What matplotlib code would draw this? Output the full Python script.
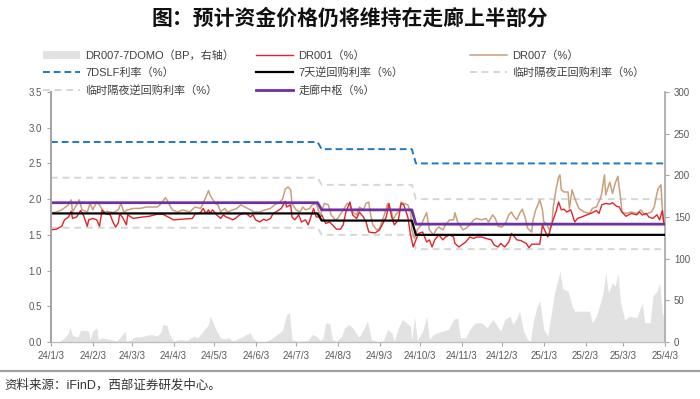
import matplotlib
matplotlib.use('Agg')
import matplotlib.pyplot as plt
import matplotlib.transforms as mtransforms
from matplotlib.lines import Line2D
from matplotlib.patches import Patch
import pandas as pd

plt.rcParams['font.family'] = ['Liberation Sans', 'Noto Sans CJK SC']

# ---- data ----
dr001_dates = ['2024-01-03', '2024-01-07', '2024-01-11', '2024-01-13', '2024-01-16', '2024-01-18', '2024-01-19',
               '2024-01-22', '2024-01-25', '2024-01-27', '2024-01-30', '2024-01-31', '2024-02-03', '2024-02-06',
               '2024-02-08', '2024-02-10', '2024-02-12', '2024-02-16', '2024-02-18', '2024-02-20', '2024-02-22',
               '2024-02-23', '2024-02-25', '2024-02-28', '2024-02-29', '2024-03-04', '2024-03-11', '2024-03-16',
               '2024-03-22', '2024-03-26', '2024-03-30', '2024-04-03', '2024-04-10', '2024-04-17', '2024-04-19',
               '2024-04-23', '2024-04-25', '2024-04-27', '2024-04-29', '2024-04-30', '2024-05-02', '2024-05-05',
               '2024-05-08', '2024-05-10', '2024-05-12', '2024-05-15', '2024-05-17', '2024-05-19', '2024-05-22',
               '2024-05-25', '2024-05-27', '2024-05-30', '2024-06-01', '2024-06-03', '2024-06-06', '2024-06-09',
               '2024-06-11', '2024-06-14', '2024-06-16', '2024-06-18', '2024-06-22', '2024-06-25', '2024-06-26',
               '2024-06-29', '2024-06-30', '2024-07-02', '2024-07-05', '2024-07-07', '2024-07-10', '2024-07-12',
               '2024-07-14', '2024-07-16', '2024-07-18', '2024-07-21', '2024-07-22', '2024-07-25', '2024-07-28',
               '2024-07-30', '2024-08-02', '2024-08-05', '2024-08-07', '2024-08-09', '2024-08-12', '2024-08-14',
               '2024-08-17', '2024-08-19', '2024-08-22', '2024-08-24', '2024-08-26', '2024-08-29', '2024-08-31',
               '2024-09-03', '2024-09-06', '2024-09-08', '2024-09-10', '2024-09-12', '2024-09-14', '2024-09-17',
               '2024-09-19', '2024-09-21', '2024-09-24', '2024-09-26', '2024-09-28', '2024-09-30', '2024-10-02',
               '2024-10-05', '2024-10-08', '2024-10-10', '2024-10-12', '2024-10-14', '2024-10-17', '2024-10-20',
               '2024-10-22', '2024-10-25', '2024-10-28', '2024-10-29', '2024-11-01', '2024-11-03', '2024-11-06',
               '2024-11-09', '2024-11-12', '2024-11-14', '2024-11-18', '2024-11-21', '2024-11-25', '2024-11-27',
               '2024-11-30', '2024-12-02', '2024-12-05', '2024-12-08', '2024-12-10', '2024-12-11', '2024-12-14',
               '2024-12-17', '2024-12-21', '2024-12-23', '2024-12-25', '2024-12-28', '2024-12-31', '2025-01-02',
               '2025-01-03', '2025-01-06', '2025-01-07', '2025-01-09', '2025-01-12', '2025-01-14', '2025-01-16',
               '2025-01-18', '2025-01-20', '2025-01-23', '2025-01-26', '2025-01-28', '2025-01-31', '2025-02-04',
               '2025-02-08', '2025-02-11', '2025-02-13', '2025-02-15', '2025-02-18', '2025-02-21', '2025-02-23',
               '2025-02-26', '2025-02-28', '2025-03-02', '2025-03-05', '2025-03-09', '2025-03-13', '2025-03-15',
               '2025-03-17', '2025-03-20', '2025-03-22', '2025-03-25', '2025-03-28', '2025-03-30', '2025-04-01',
               '2025-04-02']
dr001 = [1.57, 1.58, 1.62, 1.71, 1.75, 1.83, 1.73,
         1.75, 1.84, 1.78, 1.62, 1.71, 1.73, 1.71,
         1.62, 1.85, 1.80, 1.78, 1.68, 1.61, 1.67,
         1.79, 1.75, 1.64, 1.78, 1.73, 1.75, 1.76,
         1.79, 1.79, 1.75, 1.71, 1.72, 1.73, 1.79,
         1.81, 1.87, 1.80, 1.85, 1.80, 1.85, 1.78,
         1.73, 1.78, 1.75, 1.73, 1.71, 1.73, 1.78,
         1.80, 1.80, 1.75, 1.78, 1.71, 1.68, 1.72,
         1.70, 1.73, 1.80, 1.82, 1.87, 1.97, 1.89,
         1.92, 1.75, 1.71, 1.78, 1.68, 1.71, 1.64,
         1.75, 1.87, 1.75, 1.75, 1.78, 1.66, 1.68,
         1.64, 1.58, 1.58, 1.64, 1.82, 1.96, 1.78,
         1.73, 1.82, 1.75, 1.68, 1.54, 1.53, 1.53,
         1.57, 1.68, 1.75, 1.94, 1.75, 1.64, 1.71,
         1.94, 1.92, 1.75, 1.50, 1.33, 1.43, 1.52,
         1.54, 1.40, 1.43, 1.33, 1.43, 1.50, 1.43,
         1.47, 1.50, 1.47, 1.38, 1.33, 1.36, 1.40,
         1.47, 1.45, 1.47, 1.47, 1.45, 1.43, 1.36,
         1.33, 1.38, 1.33, 1.40, 1.52, 1.50, 1.43,
         1.42, 1.38, 1.32, 1.37, 1.37, 1.37, 1.64,
         1.59, 1.47, 1.52, 1.66, 1.82, 1.96, 1.85,
         1.86, 1.82, 1.85, 1.68, 1.73, 1.75, 1.78,
         1.81, 1.84, 1.80, 1.92, 1.94, 1.93, 1.95,
         1.90, 1.89, 1.82, 1.76, 1.80, 1.78, 1.82,
         1.78, 1.80, 1.75, 1.73, 1.78, 1.71, 1.84,
         1.68]

dr007_dates = ['2024-01-03', '2024-01-07', '2024-01-11', '2024-01-16', '2024-01-18', '2024-01-19', '2024-01-22',
               '2024-01-24', '2024-01-26', '2024-01-30', '2024-02-01', '2024-02-03', '2024-02-06', '2024-02-08',
               '2024-02-11', '2024-02-14', '2024-02-18', '2024-02-22', '2024-02-24', '2024-02-26', '2024-02-29',
               '2024-03-04', '2024-03-09', '2024-03-14', '2024-03-22', '2024-03-25', '2024-03-28', '2024-03-30',
               '2024-04-02', '2024-04-06', '2024-04-10', '2024-04-15', '2024-04-19', '2024-04-23', '2024-04-25',
               '2024-04-27', '2024-04-29', '2024-04-30', '2024-05-04', '2024-05-06', '2024-05-08', '2024-05-11',
               '2024-05-13', '2024-05-17', '2024-05-20', '2024-05-23', '2024-05-26', '2024-05-30', '2024-06-02',
               '2024-06-06', '2024-06-10', '2024-06-14', '2024-06-17', '2024-06-21', '2024-06-23', '2024-06-25',
               '2024-06-27', '2024-06-29', '2024-06-30', '2024-07-03', '2024-07-06', '2024-07-08', '2024-07-10',
               '2024-07-13', '2024-07-15', '2024-07-18', '2024-07-19', '2024-07-21', '2024-07-24', '2024-07-27',
               '2024-07-29', '2024-08-01', '2024-08-03', '2024-08-07', '2024-08-10', '2024-08-12', '2024-08-14',
               '2024-08-17', '2024-08-19', '2024-08-22', '2024-08-24', '2024-08-26', '2024-08-27', '2024-08-29',
               '2024-09-01', '2024-09-03', '2024-09-06', '2024-09-08', '2024-09-09', '2024-09-12', '2024-09-13',
               '2024-09-15', '2024-09-18', '2024-09-19', '2024-09-21', '2024-09-24', '2024-09-26', '2024-09-27',
               '2024-09-29', '2024-10-01', '2024-10-04', '2024-10-06', '2024-10-08', '2024-10-10', '2024-10-13',
               '2024-10-15', '2024-10-17', '2024-10-20', '2024-10-22', '2024-10-25', '2024-10-28', '2024-10-29',
               '2024-10-31', '2024-11-04', '2024-11-06', '2024-11-09', '2024-11-12', '2024-11-14', '2024-11-18',
               '2024-11-21', '2024-11-23', '2024-11-26', '2024-11-28', '2024-11-30', '2024-12-03', '2024-12-06',
               '2024-12-08', '2024-12-10', '2024-12-11', '2024-12-14', '2024-12-16', '2024-12-18', '2024-12-20',
               '2024-12-22', '2024-12-25', '2024-12-26', '2024-12-28', '2024-12-30', '2024-12-31', '2025-01-02',
               '2025-01-03', '2025-01-05', '2025-01-07', '2025-01-09', '2025-01-10', '2025-01-12', '2025-01-14',
               '2025-01-15', '2025-01-16', '2025-01-18', '2025-01-21', '2025-01-22', '2025-01-24', '2025-01-26',
               '2025-01-29', '2025-02-02', '2025-02-06', '2025-02-08', '2025-02-11', '2025-02-14', '2025-02-15',
               '2025-02-17', '2025-02-18', '2025-02-21', '2025-02-23', '2025-02-25', '2025-02-27', '2025-03-01',
               '2025-03-02', '2025-03-05', '2025-03-09', '2025-03-13', '2025-03-16', '2025-03-19', '2025-03-21',
               '2025-03-24', '2025-03-26', '2025-03-28', '2025-03-29', '2025-03-31', '2025-04-01', '2025-04-02']
dr007 = [1.80, 1.82, 1.85, 1.92, 1.99, 1.82, 1.92,
         1.99, 1.85, 1.82, 1.94, 1.85, 1.96, 1.92,
         1.82, 1.83, 1.81, 1.85, 1.94, 1.82, 1.85,
         1.87, 1.87, 1.89, 1.89, 1.94, 2.02, 1.96,
         1.85, 1.82, 1.85, 1.82, 1.89, 1.87, 1.94,
         2.03, 2.12, 2.06, 1.94, 1.92, 1.82, 1.87,
         1.82, 1.85, 1.87, 1.92, 1.89, 1.85, 1.82,
         1.82, 1.85, 1.87, 1.92, 1.96, 2.00, 2.14,
         2.17, 2.13, 1.94, 1.85, 1.82, 1.89, 1.85,
         1.87, 1.92, 1.94, 1.87, 1.78, 1.94, 1.92,
         1.78, 1.71, 1.73, 1.85, 1.94, 1.92, 1.82,
         1.78, 1.89, 1.85, 1.94, 1.96, 1.82, 1.64,
         1.57, 1.59, 1.75, 1.87, 1.94, 1.82, 1.71,
         1.78, 1.85, 1.96, 1.94, 1.92, 1.82, 1.57,
         1.45, 1.57, 1.64, 1.73, 1.81, 1.57, 1.50,
         1.57, 1.61, 1.57, 1.64, 1.71, 1.71, 1.81,
         1.68, 1.57, 1.59, 1.64, 1.71, 1.73, 1.71,
         1.73, 1.68, 1.78, 1.73, 1.62, 1.61, 1.68,
         1.78, 1.82, 1.78, 1.71, 1.80, 1.86, 1.75,
         1.59, 1.54, 1.71, 1.85, 1.94, 1.99, 1.85,
         1.68, 1.66, 1.57, 1.64, 1.89, 2.13, 2.31,
         2.34, 2.13, 2.10, 2.10, 1.87, 2.13, 2.01,
         1.87, 1.82, 1.80, 1.87, 1.89, 2.01, 2.08,
         2.34, 2.06, 2.24, 2.08, 2.22, 2.32, 2.01,
         1.82, 1.80, 1.82, 1.80, 1.85, 1.78, 1.80,
         1.82, 1.89, 2.08, 2.15, 2.20, 1.87, 1.68]

spread_dates = ['2024-01-03', '2024-01-09', '2024-01-13', '2024-01-16', '2024-01-17', '2024-01-19', '2024-01-21',
                '2024-01-23', '2024-01-25', '2024-01-28', '2024-01-31', '2024-02-01', '2024-02-03', '2024-02-06',
                '2024-02-07', '2024-02-10', '2024-02-16', '2024-02-21', '2024-02-24', '2024-02-27', '2024-02-28',
                '2024-03-02', '2024-03-05', '2024-03-09', '2024-03-14', '2024-03-18', '2024-03-22', '2024-03-25',
                '2024-03-26', '2024-03-29', '2024-03-31', '2024-04-03', '2024-04-08', '2024-04-13', '2024-04-18',
                '2024-04-21', '2024-04-25', '2024-04-29', '2024-04-30', '2024-05-02', '2024-05-05', '2024-05-08',
                '2024-05-10', '2024-05-14', '2024-05-17', '2024-05-21', '2024-05-24', '2024-05-27', '2024-05-30',
                '2024-06-01', '2024-06-04', '2024-06-09', '2024-06-14', '2024-06-19', '2024-06-23', '2024-06-26',
                '2024-06-28', '2024-06-30', '2024-07-04', '2024-07-07', '2024-07-12', '2024-07-15', '2024-07-18',
                '2024-07-21', '2024-07-23', '2024-07-25', '2024-07-28', '2024-07-30', '2024-08-02', '2024-08-06',
                '2024-08-08', '2024-08-11', '2024-08-14', '2024-08-18', '2024-08-19', '2024-08-22', '2024-08-25',
                '2024-08-28', '2024-09-02', '2024-09-06', '2024-09-09', '2024-09-12', '2024-09-14', '2024-09-17',
                '2024-09-20', '2024-09-23', '2024-09-26', '2024-09-27', '2024-09-29', '2024-10-01', '2024-10-05',
                '2024-10-08', '2024-10-10', '2024-10-13', '2024-10-16', '2024-10-20', '2024-10-24', '2024-10-28',
                '2024-10-31', '2024-11-02', '2024-11-06', '2024-11-09', '2024-11-13', '2024-11-18', '2024-11-22',
                '2024-11-26', '2024-11-28', '2024-12-02', '2024-12-05', '2024-12-09', '2024-12-11', '2024-12-14',
                '2024-12-16', '2024-12-19', '2024-12-22', '2024-12-24', '2024-12-26', '2024-12-29', '2024-12-31',
                '2025-01-03', '2025-01-06', '2025-01-08', '2025-01-11', '2025-01-15', '2025-01-17', '2025-01-21',
                '2025-01-24', '2025-01-26', '2025-02-01', '2025-02-06', '2025-02-08', '2025-02-11', '2025-02-14',
                '2025-02-16', '2025-02-18', '2025-02-20', '2025-02-23', '2025-02-25', '2025-02-27', '2025-03-01',
                '2025-03-04', '2025-03-08', '2025-03-13', '2025-03-17', '2025-03-19', '2025-03-23', '2025-03-25',
                '2025-03-28', '2025-03-30', '2025-04-01', '2025-04-02']
spread_bp = [0, 0, 5, 11, 18, 8, 7,
             6, 14, 14, 13, 3, 13, 17,
             3, 5, 3, 1, 7, 13, 1,
             2, 6, 6, 8, 9, 7, 13,
             21, 20, 9, 1, 3, 2, 7,
             5, 13, 21, 31, 25, 13, 5,
             4, 5, 1, 4, 6, 9, 11,
             4, 1, 0, 3, 9, 14, 33,
             35, 3, 1, 1, 2, 9, 7,
             2, 4, 23, 22, 3, 1, 7,
             17, 21, 17, 7, 6, 15, 25,
             3, 0, 2, 15, 11, 1, 17,
             27, 23, 19, 2, 31, 2, 13,
             31, 3, 9, 11, 13, 15, 27,
             29, 5, 5, 15, 23, 23, 17,
             27, 23, 13, 27, 31, 21, 29,
             37, 13, 3, 0, 23, 43, 49,
             15, 7, 29, 59, 85, 64, 61,
             43, 37, 37, 37, 23, 31, 47,
             59, 83, 59, 71, 67, 83, 47,
             27, 31, 29, 47, 23, 23, 55,
             61, 71, 35, 31]

# policy rates (change points)
policy_dates = ['2024-01-03', '2024-07-19', '2024-07-22', '2024-09-27', '2024-09-30', '2025-04-03']
slf_7d = [2.80, 2.80, 2.70, 2.70, 2.50, 2.50]
omo_7d = [1.80, 1.80, 1.70, 1.70, 1.50, 1.50]
on_repo = [1.60, 1.60, 1.50, 1.50, 1.30, 1.30]
on_reverse = [2.30, 2.30, 2.20, 2.20, 2.00, 2.00]
corridor_mid = [1.95, 1.95, 1.85, 1.85, 1.65, 1.65]

tick_dates = ['2024-01-03', '2024-02-03', '2024-03-03', '2024-04-03', '2024-05-03', '2024-06-03', '2024-07-03',
              '2024-08-03', '2024-09-03', '2024-10-03', '2024-11-03', '2024-12-03', '2025-01-03', '2025-02-03',
              '2025-03-03', '2025-04-03']

title = '图：预计资金价格仍将维持在走廊上半部分'
source = '资料来源：iFinD，西部证券研发中心。'

# ---- drawing ----
fig = plt.figure(figsize=(7, 3.99), dpi=100)
ax = fig.add_axes([51 / 700, 1 - 342 / 399, 614 / 700, 250 / 399])
ax2 = ax.twinx()
ax.set_zorder(ax2.get_zorder() + 1)
ax.patch.set_visible(False)

c_area = '#e2e2e2'
c_red = '#e0242c'
c_tan = '#c9a07c'
c_blue = '#1f78c8'
c_gray = '#d6d6d6'
c_purple = '#7030a0'

ax2.fill_between(pd.to_datetime(spread_dates), spread_bp, 0, color=c_area, lw=0)
ax2.set_ylim(0, 300)

pdates = pd.to_datetime(policy_dates)
ax.plot(pdates, slf_7d, color=c_blue, lw=1.4, dashes=(3.5, 2))
ax.plot(pdates, on_reverse, color=c_gray, lw=1.4, dashes=(3.5, 2.5))
ax.plot(pdates, on_repo, color=c_gray, lw=1.4, dashes=(3.5, 2.5))
ax.plot(pd.to_datetime(dr007_dates), dr007, color=c_tan, lw=1.1)
ax.plot(pd.to_datetime(dr001_dates), dr001, color=c_red, lw=1.0)
ax.plot(pdates, omo_7d, color='black', lw=1.6)
ax.plot(pdates, corridor_mid, color=c_purple, lw=2.0)

ax.set_xlim(pd.Timestamp('2024-01-03'), pd.Timestamp('2025-04-03'))
ax.set_ylim(0, 3.5)
ax.set_yticks([0, 0.5, 1.0, 1.5, 2.0, 2.5, 3.0, 3.5])
ax.set_yticklabels(['%.1f' % v for v in ax.get_yticks()])
ax2.set_yticks(range(0, 301, 50))

td = pd.to_datetime(tick_dates)
ax.set_xticks(td)
ax.set_xticklabels(['%d/%d/%d' % (d.year % 100, d.month, d.day) for d in td])
# labels sit a few pixels left of their tick marks in the original
shift = mtransforms.ScaledTranslation(-4 / 100, 0, fig.dpi_scale_trans)
for lab in ax.get_xticklabels():
    lab.set_transform(lab.get_transform() + shift)

spine_c = '#a6a6a6'
for a in (ax, ax2):
    a.spines['top'].set_visible(False)
    a.tick_params(colors=spine_c, labelcolor='#595959', labelsize=7, length=3, width=0.8)
ax.spines['right'].set_visible(False)
ax2.spines['left'].set_visible(False)
ax2.spines['bottom'].set_visible(False)
ax.spines['left'].set_color(spine_c)
ax.spines['left'].set_linewidth(1.5)
ax2.spines['right'].set_color(spine_c)
ax2.spines['right'].set_linewidth(1.2)
ax.spines['bottom'].set_color('#bfbfbf')
ax.spines['bottom'].set_linewidth(1.0)

# legend in three fixed columns
h_area = Patch(facecolor=c_area, edgecolor='none')
h_slf = Line2D([], [], color=c_blue, lw=1.4, dashes=(3.5, 2))
h_rev = Line2D([], [], color=c_gray, lw=1.4, dashes=(3.5, 2.5))
h_dr001 = Line2D([], [], color=c_red, lw=1.0)
h_omo = Line2D([], [], color='black', lw=1.6)
h_mid = Line2D([], [], color=c_purple, lw=2.0)
h_dr007 = Line2D([], [], color=c_tan, lw=1.1)
h_repo = Line2D([], [], color=c_gray, lw=1.4, dashes=(3.5, 2.5))

leg_top = 1 - 50 / 399
leg_kw = dict(loc='upper left', frameon=False, fontsize=8, borderpad=0, borderaxespad=0,
              handlelength=3.35, handletextpad=0.45, labelspacing=0.6, labelcolor='#404040')
fig.legend([h_area, h_slf, h_rev], ['DR007-7DOMO（BP，右轴）', '7DSLF利率（%）', '临时隔夜逆回购利率（%）'],
           bbox_to_anchor=(43 / 700, leg_top), **leg_kw)
fig.legend([h_dr001, h_omo, h_mid], ['DR001（%）', '7天逆回购利率（%）', '走廊中枢（%）'],
           bbox_to_anchor=(256 / 700, leg_top), **leg_kw)
fig.legend([h_dr007, h_repo], ['DR007（%）', '临时隔夜正回购利率（%）'],
           bbox_to_anchor=(470 / 700, leg_top), **leg_kw)

fig.text(0.5, 1 - 18 / 399, title, ha='center', va='center', fontsize=15, fontweight='bold',
         family=['Noto Sans CJK SC', 'DejaVu Sans'], color='#111111')

fig.add_artist(Line2D([0, 1], [1 - 371 / 399] * 2, transform=fig.transFigure, color='#a0a0a0', lw=1.6))
fig.text(4 / 700, 1 - 385 / 399, source, ha='left', va='center', fontsize=9, color='#333333')

fig.savefig('out.png', dpi=100)
